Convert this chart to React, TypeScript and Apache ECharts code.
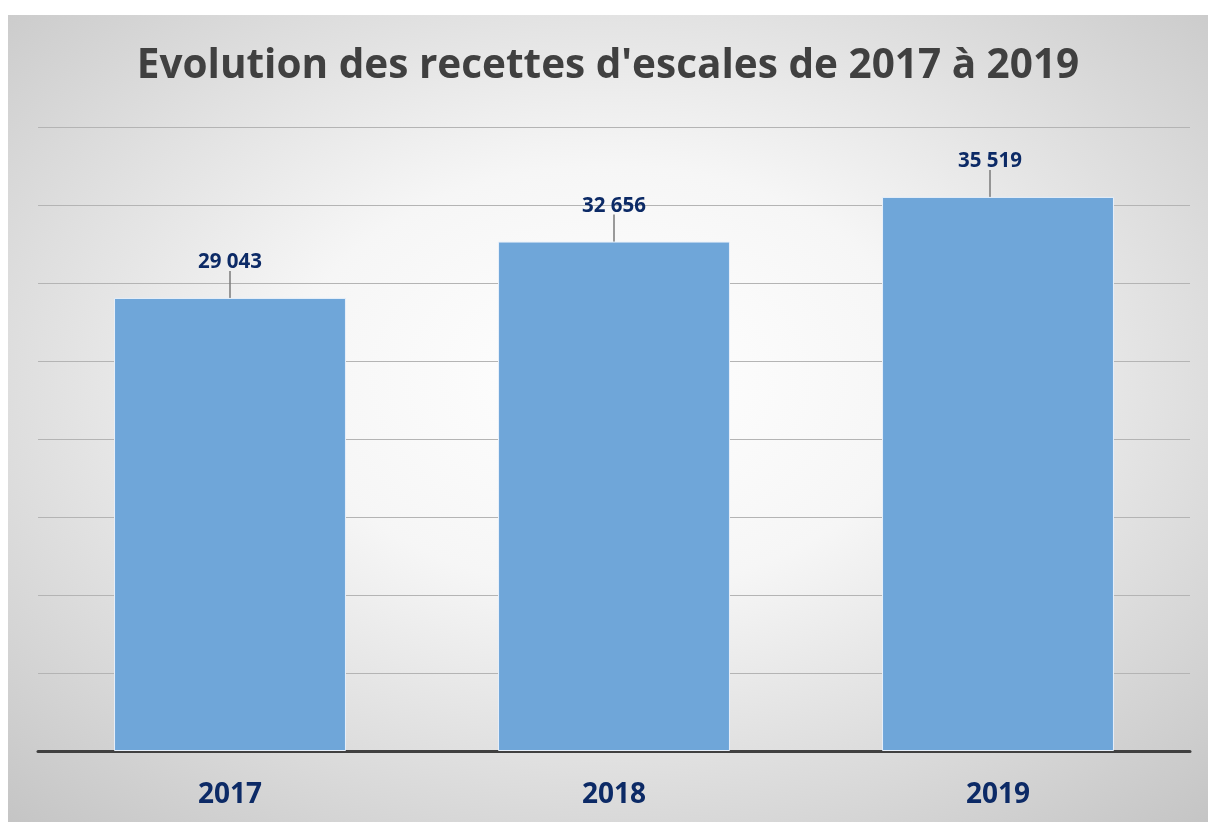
import React, { useEffect, useRef } from "react";
import * as echarts from "echarts";

const categories = ["2017", "2018", "2019"];
const values = [29043, 32656, 35519];
const labelShiftX = [0, 0, -8];

const fmt = (v: number) => {
  const s = String(Math.round(v));
  return s.replace(/\B(?=(\d{3})+(?!\d))/g, " ");
};

export default function App() {
  const ref = useRef<HTMLDivElement>(null);
  useEffect(() => {
    if (!ref.current) return;
    const chart = echarts.init(ref.current, undefined, { renderer: "svg" });
    chart.setOption({
      animation: false,
      backgroundColor: {
        type: "radial",
        x: 0.5,
        y: 0.45,
        r: 0.75,
        colorStops: [
          { offset: 0, color: "#ffffff" },
          { offset: 0.35, color: "#f6f6f6" },
          { offset: 1, color: "#c4c4c4" },
        ],
      },
      title: {
        text: "Evolution des recettes d'escales de 2017 à 2019",
        left: "center",
        top: 22,
        textStyle: {
          fontFamily: "Open Sans",
          fontWeight: "bold",
          fontSize: 40.5,
          color: "#404040",
        },
      },
      grid: { left: 30, right: 18, top: 112, bottom: 71, containLabel: false },
      xAxis: {
        type: "category",
        data: categories,
        axisLine: { show: true, lineStyle: { color: "#404040", width: 3 } },
        axisTick: { show: false },
        axisLabel: {
          margin: 27,
          fontFamily: "Open Sans",
          fontWeight: "bold",
          fontSize: 28,
          color: "#0c2a66",
        },
      },
      yAxis: {
        type: "value",
        min: 0,
        max: 40000,
        interval: 5000,
        axisLabel: { show: false },
        axisLine: { show: false },
        axisTick: { show: false },
        splitLine: { lineStyle: { color: "#b4b4b4", width: 1 } },
      },
      series: [
        {
          type: "bar",
          data: values,
          barWidth: "60.4%",
          itemStyle: { color: "#6fa6d9", borderColor: "#e8f0fa", borderWidth: 1 },
          label: {
            show: true,
            position: "top",
            distance: 0,
            formatter: (p: any) => fmt(p.value),
            fontFamily: "Open Sans",
            fontWeight: "bold",
            fontSize: 20.5,
            color: "#0c2a66",
          },
          labelLine: { show: true, lineStyle: { color: "#7a7a7a", width: 1.5 } },
          labelLayout: (p: any) => ({ dy: -27, dx: labelShiftX[p.dataIndex] }),
        },
      ],
    });
    return () => chart.dispose();
  }, []);
  return (
    <div
      ref={ref}
      style={{ position: "fixed", left: 8, top: 15, width: 1200, height: 807 }}
    />
  );
}
